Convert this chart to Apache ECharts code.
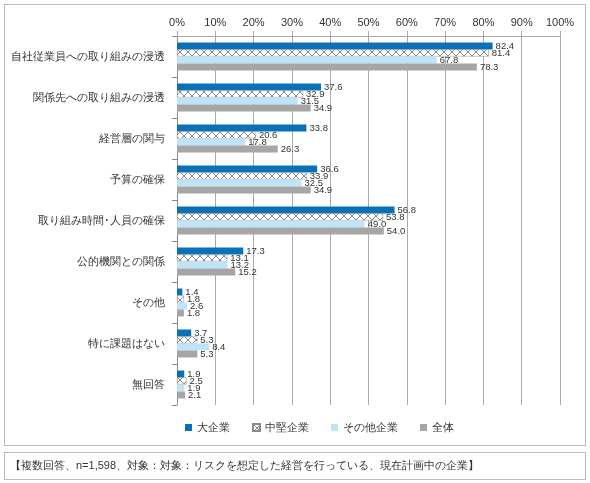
<!DOCTYPE html><html><head><meta charset="utf-8"><script src="https://cdn.jsdelivr.net/npm/echarts@6/dist/echarts.min.js"></script>
<style>body{margin:0;background:#fff}#c{width:590px;height:483px}
.b1{position:absolute;left:4px;top:4px;width:580px;height:440px;border:1px solid #bbb}
.b2{position:absolute;left:4px;top:452px;width:580px;height:26px;border:1px solid #bbb}</style></head><body>
<div class="b1"></div><div class="b2"></div>
<div id="c" style="position:absolute;left:0;top:0"></div>
<script>
const categories=['自社従業員への取り組みの浸透','関係先への取り組みの浸透','経営層の関与','予算の確保','取り組み時間･人員の確保','公的機関との関係','その他','特に課題はない','無回答'];
const large=[82.4,37.6,33.8,36.6,56.8,17.3,1.4,3.7,1.9];
const mid=[81.4,32.9,20.6,33.9,53.8,13.1,1.8,5.3,2.5];
const other=[67.8,31.5,17.8,32.5,49.0,13.2,2.6,8.4,1.9];
const total=[78.3,34.9,26.3,34.9,54.0,15.2,1.8,5.3,2.1];
const names=['大企業','中堅企業','その他企業','全体'];
const cv=document.createElement('canvas');cv.width=8;cv.height=8;const g=cv.getContext('2d');
g.fillStyle='#fff';g.fillRect(0,0,8,8);g.strokeStyle='#8a8a8a';g.lineWidth=1;
g.beginPath();g.moveTo(0,0);g.lineTo(8,8);g.moveTo(8,0);g.lineTo(0,8);g.stroke();
const hatch={image:cv,repeat:'repeat'};
const colors=['#0a70b8',hatch,'#bfe3f7','#a6a6a6'];
const ch=echarts.init(document.getElementById('c'));
const lbl={show:true,position:'right',fontSize:9.5,color:'#333',distance:3,formatter:p=>p.value.toFixed(1)};
ch.setOption({animation:false,
grid:{left:177,right:30,top:36,bottom:78},
legend:{bottom:45,left:180,icon:'rect',itemWidth:7,itemHeight:7,itemGap:22,textStyle:{fontSize:11,color:'#333'},data:names},
xAxis:{type:'value',position:'top',min:0,max:100,interval:10,axisLabel:{formatter:'{value}%',fontSize:11,color:'#333'},splitLine:{lineStyle:{color:'#aaa'}},axisLine:{show:true,lineStyle:{color:'#aaa'}},axisTick:{show:true}},
yAxis:{type:'category',inverse:true,data:categories,axisLabel:{fontSize:11,color:'#333',margin:12},axisLine:{lineStyle:{color:'#888'}},axisTick:{show:true,lineStyle:{color:'#888'}}},
series:[large,mid,other,total].map((d,i)=>({name:names[i],type:'bar',data:d,barWidth:7,barGap:'0%',barCategoryGap:'30%',
itemStyle:{color:colors[i],borderColor:i==1?'#8a8a8a':null,borderWidth:i==1?0.5:0},label:lbl}))
});
</script>
<div style="position:absolute;left:10px;top:458px;font-size:11px;color:#333;font-family:sans-serif">【複数回答、n=1,598、対象：対象：リスクを想定した経営を行っている、現在計画中の企業】</div>
</body></html>
